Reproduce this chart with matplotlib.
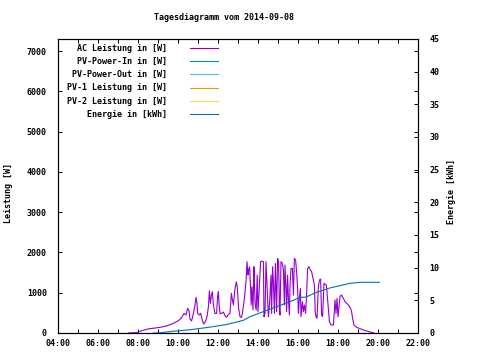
import numpy as np
import matplotlib
matplotlib.use('Agg')
import matplotlib.pyplot as plt

plt.rcParams['font.family'] = ['DejaVu Sans Mono']
plt.rcParams['font.size'] = 6
plt.rcParams['font.weight'] = 'bold'

# AC power, time in hours of day
ac_time = [7.52, 7.95, 8.2, 8.5, 8.8, 9.1, 9.43, 9.77, 10.02, 10.18, 10.3, 10.4, 10.48, 10.55,
           10.6, 10.68, 10.77, 10.85, 10.9, 10.95, 10.98, 11.07, 11.13, 11.2, 11.28, 11.37,
           11.45, 11.52, 11.57, 11.62, 11.67, 11.72, 11.77, 11.85, 11.93, 11.98, 12.02, 12.05,
           12.1, 12.18, 12.27, 12.35, 12.43, 12.52, 12.6, 12.67, 12.72, 12.77, 12.85, 12.92,
           12.97, 13.03, 13.1, 13.17, 13.22, 13.32, 13.4, 13.45, 13.5, 13.53, 13.58, 13.63,
           13.66, 13.7, 13.75, 13.8, 13.83, 13.86, 13.91, 13.96, 14.0, 14.13, 14.2, 14.27,
           14.3, 14.35, 14.4, 14.43, 14.47, 14.52, 14.57, 14.6, 14.65, 14.68, 14.73, 14.77,
           14.82, 14.87, 14.93, 14.98, 15.03, 15.07, 15.1, 15.15, 15.22, 15.27, 15.32, 15.35,
           15.4, 15.43, 15.48, 15.52, 15.57, 15.6, 15.65, 15.72, 15.77, 15.82, 15.88, 15.93,
           15.98, 16.02, 16.07, 16.12, 16.15, 16.22, 16.27, 16.32, 16.38, 16.43, 16.48, 16.55,
           16.62, 16.68, 16.77, 16.82, 16.86, 16.9, 16.95, 17.02, 17.07, 17.13, 17.18, 17.23,
           17.3, 17.42, 17.48, 17.57, 17.65, 17.77, 17.85, 17.9, 17.95, 18.0, 18.1, 18.17,
           18.27, 18.35, 18.52, 18.63, 18.68, 18.73, 18.8, 18.93, 19.1, 19.27, 19.43, 19.6,
           19.77]
ac_power = [0, 10, 60, 100, 120, 141, 174, 240, 306, 380, 488, 447, 612, 554,
            348, 298, 488, 695, 885, 736, 488, 447, 488, 348, 223, 281,
            405, 653, 1050, 736, 943, 1025, 695, 480, 488, 901, 1025, 736,
            480, 488, 520, 430, 390, 463, 488, 984, 819, 695, 1108, 1273,
            1108, 612, 405, 385, 488, 860, 1274, 1770, 1439, 1563, 1646, 1108,
            695, 1150, 571, 1646, 1108, 695, 571, 1439, 530, 1770, 1786, 1770,
            405, 488, 1770, 1439, 943, 405, 695, 943, 1439, 488, 1646, 1274,
            488, 1728, 530, 1852, 1770, 612, 447, 1770, 1728, 1563, 695, 1687,
            1108, 530, 1439, 860, 447, 1150, 1604, 1604, 943, 1852, 1811, 1522,
            1108, 488, 860, 1108, 405, 777, 530, 695, 488, 943, 1604, 1646,
            1563, 1522, 1315, 1191, 530, 405, 364, 1150, 1315, 1340, 447, 405,
            1232, 1190, 819, 281, 198, 198, 819, 488, 860, 405, 901, 943,
            860, 777, 695, 612, 530, 364, 198, 141, 108, 75, 50, 25,
            8]

# energy in kWh
energy_time = [8.77, 9.1, 9.68, 10.6, 11.6, 12.43, 13.27, 13.6, 14.27, 14.93, 15.6, 16.1,
               16.4, 16.93, 17.1, 17.6, 18.1, 18.6, 19.1, 20.07]
energy_kwh = [0, 0.02, 0.25, 0.5, 0.9, 1.3, 1.94, 2.5, 3.27, 4.03, 4.8, 5.45,
              5.5, 6.23, 6.4, 6.9, 7.25, 7.6, 7.76, 7.76]

# series without data on this day
pv_in_time, pv_in_power = [], []
pv_out_time, pv_out_power = [], []
pv1_time, pv1_power = [], []
pv2_time, pv2_power = [], []

hour_ticks = [4, 6, 8, 10, 12, 14, 16, 18, 20, 22]
hour_labels = ['%02d:00' % h for h in hour_ticks]

fig = plt.figure(figsize=(4.8, 3.6), dpi=100)
ax = fig.add_axes([58 / 480, 27 / 360, 360 / 480, 294 / 360])
ax2 = ax.twinx()

l1, = ax.plot(ac_time, ac_power, color='#9400d3', lw=0.8)
l2, = ax.plot(pv_in_time, pv_in_power, color='#009e73', lw=0.8)
l3, = ax.plot(pv_out_time, pv_out_power, color='#56b4e9', lw=0.8)
l4, = ax.plot(pv1_time, pv1_power, color='#e69f00', lw=0.8)
l5, = ax.plot(pv2_time, pv2_power, color='#f0e442', lw=0.8)
l6, = ax2.plot(energy_time, energy_kwh, color='#0072b2', lw=0.8)

ax.set_xlim(4, 22)
ax.set_ylim(0, 7300)
ax2.set_ylim(0, 45)

ax.set_xticks(hour_ticks)
ax.set_xticklabels(hour_labels)
ax.set_xticks(np.arange(4, 23, 1), minor=True)
ax.set_yticks(np.arange(0, 7001, 1000))
ax2.set_yticks(np.arange(0, 46, 5))

ax.tick_params(axis='both', which='both', direction='in', length=3, width=0.7,
               top=True, right=True, labelright=False)
ax.tick_params(axis='y', pad=8)
ax.tick_params(axis='x', pad=4)
ax2.tick_params(axis='y', direction='in', length=3, width=0.7, pad=8)

for a in (ax, ax2):
    for s in a.spines.values():
        s.set_linewidth(0.8)

fig.text(224 / 480, 1 - 18 / 360, 'Tagesdiagramm vom 2014-09-08', ha='center', va='center')
fig.text(9 / 480, 1 - 193 / 360, 'Leistung [W]', rotation=90, ha='center', va='center')
fig.text(452 / 480, 1 - 192 / 360, 'Energie [kWh]', rotation=90, ha='center', va='center')

ax.legend([l1, l2, l3, l4, l5, l6],
          ['AC Leistung in [W]', 'PV-Power-In in [W]', 'PV-Power-Out in [W]',
           'PV-1 Leistung in [W]', 'PV-2 Leistung in [W]', 'Energie in [kWh]'],
          loc='upper right', bbox_to_anchor=(160 / 360, 1 - 5 / 294),
          frameon=False, markerfirst=False, borderpad=0, borderaxespad=0,
          handlelength=3.4, handletextpad=2.7, labelspacing=0.5)

fig.savefig('out.png', dpi=100)
